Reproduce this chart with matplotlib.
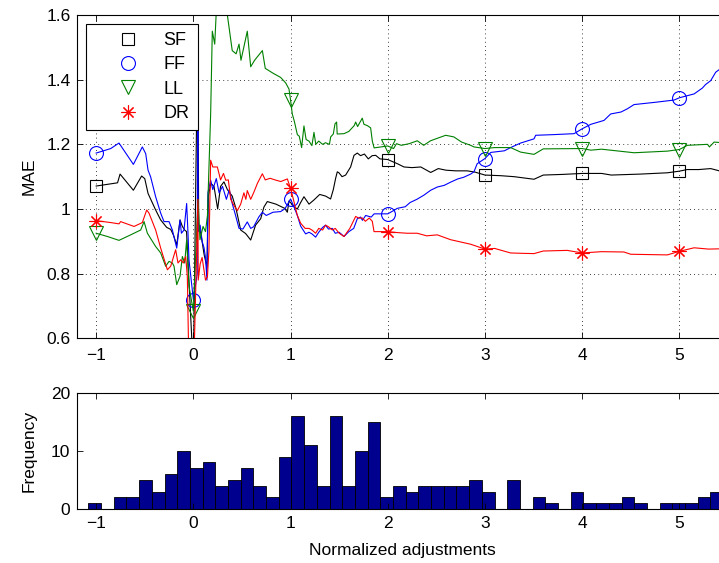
import numpy as np
import matplotlib.pyplot as plt
from matplotlib.lines import Line2D

plt.rcParams['font.family'] = ['Liberation Sans', 'DejaVu Sans']

# --- MAE curves ---
sf_x = [-1, -0.78, -0.754, -0.617, -0.532, -0.50, -0.466, -0.388, -0.336, -0.274, -0.233, -0.206, -0.171,
        -0.137, -0.113, -0.089, -0.07, 0, 0.045, 0.055, 0.08, 0.11, 0.14, 0.155, 0.18, 0.213, 0.25, 0.28,
        0.315, 0.35, 0.40, 0.44, 0.487, 0.538, 0.59, 0.64, 0.693, 0.726, 0.761, 0.85, 0.94, 0.967, 0.984,
        1.0, 1.035, 1.07, 1.104, 1.138, 1.19, 1.241, 1.3, 1.36, 1.412, 1.44, 1.464, 1.481, 1.498, 1.53,
        1.567, 1.618, 1.653, 1.687, 1.72, 1.76, 1.80, 1.84, 1.876, 1.92, 2, 2.1, 2.167, 2.25, 2.34, 2.442,
        2.52, 2.6, 2.7, 2.818, 2.9, 3, 3.163, 3.3, 3.505, 3.6, 3.8, 4, 4.2, 4.3, 4.6, 4.877, 5, 5.08, 5.2,
        5.323, 5.45]
sf_y = [1.071, 1.081, 1.108, 1.058, 1.102, 1.094, 1.048, 0.997, 0.966, 0.943, 0.937, 0.920, 0.889,
        0.966, 0.946, 0.935, 0.93, 0.5, 1.55, 0.95, 0.92, 0.86, 0.82, 1.04, 1.08, 1.069, 1.0, 1.07,
        1.084, 1.06, 1.04, 1.0, 0.935, 0.924, 0.904, 0.95, 0.97, 1.006, 1.023, 1.015, 1.002, 0.99, 1.025,
        1.02, 1.007, 1.0, 1.02, 1.038, 1.015, 1.028, 1.045, 1.04, 1.031, 1.06, 1.095, 1.115, 1.112, 1.1,
        1.105, 1.13, 1.166, 1.173, 1.165, 1.17, 1.155, 1.165, 1.166, 1.155, 1.153, 1.14, 1.13, 1.128, 1.13, 1.113,
        1.125, 1.12, 1.118, 1.118, 1.114, 1.105, 1.103, 1.1, 1.092, 1.105, 1.107, 1.11, 1.11, 1.105, 1.108, 1.112, 1.117, 1.122, 1.122,
        1.125, 1.115]

ff_x = [-1, -0.85, -0.765, -0.617, -0.525, -0.49, -0.466, -0.44, -0.388, -0.336, -0.302, -0.25, -0.216,
        -0.171, -0.137, -0.123, -0.096, -0.069, -0.055, -0.045, 0, 0.04, 0.046, 0.05, 0.07, 0.09, 0.11,
        0.125, 0.14, 0.15, 0.178, 0.2, 0.236, 0.265, 0.30, 0.34, 0.37, 0.40, 0.43, 0.47, 0.51, 0.555,
        0.59, 0.62, 0.675, 0.71, 0.75, 0.82, 0.898, 0.943, 1, 1.035, 1.07, 1.104, 1.155, 1.19, 1.22, 1.258,
        1.29, 1.33, 1.36, 1.39, 1.43, 1.46, 1.50, 1.55, 1.60, 1.65, 1.687, 1.72, 1.74, 1.773, 1.83, 1.86,
        2, 2.06, 2.098, 2.18, 2.23, 2.30, 2.373, 2.442, 2.51, 2.58, 2.647, 2.72, 2.78, 2.853, 2.887, 2.92,
        3, 3.06, 3.2, 3.264, 3.367, 3.505, 3.522, 3.7, 3.917, 4, 4.09, 4.225, 4.294, 4.4, 4.466, 4.534,
        4.75, 4.946, 5, 5.152, 5.237, 5.27, 5.323, 5.374, 5.45]
ff_y = [1.173, 1.187, 1.204, 1.138, 1.192, 1.171, 1.12, 1.1, 1.038, 0.987, 0.961, 0.961, 0.935,
        0.879, 0.966, 0.925, 0.935, 1.017, 0.925, 0.843, 0.72, 0.80, 1.55, 0.93, 0.95, 0.90, 0.88,
        0.85, 0.78, 1.05, 1.089, 1.06, 1.094, 1.05, 1.07, 1.03, 1.06, 1.017, 0.985, 0.94, 0.938, 0.96,
        0.94, 0.945, 0.976, 0.99, 0.98, 0.99, 0.992, 1.001, 1.031, 1.007, 0.98, 0.947, 0.923, 0.928, 0.923, 0.913,
        0.928, 0.943, 0.95, 0.938, 0.94, 0.925, 0.928, 0.915, 0.93, 0.94, 0.97, 0.975, 0.965, 0.98, 0.975, 0.985,
        0.985, 0.995, 1.002, 1.007, 1.02, 1.03, 1.043, 1.058, 1.068, 1.073, 1.083, 1.093, 1.098, 1.108, 1.115, 1.14,
        1.156, 1.175, 1.18, 1.19, 1.204, 1.217, 1.228, 1.23, 1.233, 1.248, 1.262, 1.274, 1.294, 1.30, 1.31, 1.323,
        1.33, 1.337, 1.344, 1.356, 1.374, 1.385, 1.397, 1.423, 1.44]

ll_x = [-1, -0.885, -0.765, -0.645, -0.542, -0.507, -0.473, -0.388, -0.336, -0.285, -0.25, -0.216, -0.199,
        -0.171, -0.137, -0.113, -0.089, -0.069, -0.045, 0, 0.048, 0.068, 0.1, 0.125, 0.145, 0.178, 0.195,
        0.22, 0.25, 0.33, 0.35, 0.40, 0.44, 0.47, 0.49, 0.555, 0.59, 0.63, 0.71, 0.74, 0.82, 0.898, 0.95,
        0.984, 1, 1.018, 1.04, 1.07, 1.09, 1.114, 1.138, 1.16, 1.19, 1.22, 1.241, 1.26, 1.29, 1.33, 1.36,
        1.40, 1.413, 1.44, 1.457, 1.474, 1.48, 1.55, 1.60, 1.655, 1.67, 1.69, 1.738, 1.755, 1.79, 1.824,
        1.842, 1.86, 2, 2.06, 2.09, 2.14, 2.22, 2.304, 2.37, 2.44, 2.596, 2.68, 2.76, 2.853, 2.887, 3, 3.1,
        3.264, 3.367, 3.505, 3.6, 4, 4.09, 4.2, 4.534, 4.877, 5, 5.083, 5.29, 5.31, 5.358, 5.45]
ll_y = [0.925, 0.915, 0.903, 0.92, 0.935, 0.961, 0.925, 0.884, 0.864, 0.823, 0.838, 0.833, 0.823,
        0.766, 0.792, 0.853, 0.833, 0.905, 0.761, 0.684, 1.03, 0.905, 0.946, 0.93, 0.98, 1.294, 1.55,
        1.51, 1.7, 1.7, 1.6, 1.49, 1.48, 1.51, 1.46, 1.55, 1.44, 1.46, 1.49, 1.435, 1.42, 1.407, 1.39,
        1.371, 1.337, 1.294, 1.27, 1.23, 1.225, 1.19, 1.257, 1.215, 1.21, 1.196, 1.237, 1.20, 1.21, 1.20, 1.205,
        1.20, 1.223, 1.232, 1.263, 1.269, 1.232, 1.233, 1.24, 1.258, 1.269, 1.255, 1.281, 1.262, 1.258, 1.251,
        1.209, 1.189, 1.195, 1.187, 1.202, 1.197, 1.202, 1.211, 1.197, 1.211, 1.228, 1.223, 1.207, 1.197, 1.192, 1.187, 1.19,
        1.19, 1.176, 1.169, 1.186, 1.187, 1.182, 1.185, 1.174, 1.179, 1.184, 1.197, 1.2, 1.192, 1.207, 1.205]

dr_x = [-1, -0.85, -0.765, -0.748, -0.61, -0.525, -0.48, -0.456, -0.388, -0.336, -0.267, -0.233, -0.182,
        -0.158, -0.13, -0.103, -0.079, -0.062, -0.045, 0, 0.047, 0.05, 0.07, 0.09, 0.11, 0.125, 0.145,
        0.16, 0.178, 0.20, 0.247, 0.28, 0.31, 0.333, 0.36, 0.384, 0.42, 0.453, 0.487, 0.52, 0.54, 0.555,
        0.59, 0.62, 0.66, 0.71, 0.74, 0.79, 0.84, 0.90, 0.967, 1, 1.035, 1.07, 1.104, 1.15, 1.19, 1.22,
        1.258, 1.29, 1.33, 1.361, 1.39, 1.43, 1.46, 1.50, 1.55, 1.61, 1.67, 1.70, 1.74, 1.77, 1.81, 1.841,
        1.859, 2, 2.1, 2.2, 2.304, 2.4, 2.51, 2.647, 2.75, 2.853, 3, 3.1, 3.264, 3.367, 3.505, 3.6, 3.847,
        4, 4.2, 4.43, 4.5, 4.877, 5, 5.152, 5.3, 5.45]
dr_y = [0.964, 0.958, 0.954, 0.961, 0.946, 0.958, 0.997, 0.987, 0.935, 0.879, 0.812, 0.823, 0.874,
        0.833, 0.843, 0.833, 0.853, 0.792, 0.5, 0.45, 1.03, 0.78, 0.83, 0.85, 0.81, 0.78, 0.79,
        0.87, 1.151, 1.13, 1.13, 1.09, 1.11, 1.089, 1.09, 1.03, 1.01, 0.995, 1.015, 1.05, 1.03, 1.057,
        1.03, 1.05, 1.08, 1.109, 1.09, 1.095, 1.09, 1.085, 1.093, 1.064, 1.023, 0.98, 0.956, 0.94, 0.94, 0.935,
        0.925, 0.94, 0.935, 0.95, 0.945, 0.935, 0.94, 0.925, 0.915, 0.94, 0.977, 0.972, 0.972, 0.962, 0.972, 0.962,
        0.93, 0.93, 0.927, 0.925, 0.925, 0.917, 0.92, 0.905, 0.898, 0.891, 0.876, 0.878, 0.864, 0.863, 0.862, 0.87, 0.872,
        0.864, 0.868, 0.867, 0.86, 0.858, 0.869, 0.88, 0.876, 0.877]

# x positions carrying a marker
sf_marks = [-1, 0, 2, 3, 4, 5]
all_marks = [-1, 0, 1, 2, 3, 4, 5]

# --- histogram of normalized adjustments ---
hist_start = -1.08
hist_width = 0.1306
hist_counts = [1, 0, 2, 2, 5, 3, 6, 10, 7, 8, 4, 5, 7, 4, 2, 9, 16, 11, 4, 16,
               4, 10, 15, 2, 4, 3, 4, 4, 4, 4, 5, 3, 0, 5, 0, 2, 1, 0, 3, 1,
               1, 1, 2, 1, 0, 1, 1, 1, 2, 3]

series = [
    ('SF', sf_x, sf_y, 'k', 's', 8, sf_marks),
    ('FF', ff_x, ff_y, 'b', 'o', 10, all_marks),
    ('LL', ll_x, ll_y, (0, 0.5, 0), 'v', 10, all_marks),
    ('DR', dr_x, dr_y, 'r', (8, 2, 0), 10, all_marks),
]

fig = plt.figure(figsize=(7.19, 5.63), dpi=100)
ax1 = fig.add_axes([0.1067, 0.3991, 0.9057, 0.5742])
ax2 = fig.add_axes([0.1067, 0.0959, 0.9057, 0.2066])

handles = []
for name, xs, ys, col, mk, ms, marks in series:
    idx = [i for i, v in enumerate(xs) if v in marks]
    ax1.plot(xs, ys, color=col, lw=0.8, marker=mk, markevery=idx, ms=ms,
             mfc='none', mec=col, mew=0.8)
    handles.append(Line2D([], [], ls='none', marker=mk, ms=ms, mfc='none', mec=col, mew=0.8))

ax1.set_xlim(-1.2, 5.5)
ax1.set_ylim(0.6, 1.6)
ax1.set_xticks([-1, 0, 1, 2, 3, 4, 5])
ax1.set_yticks([0.6, 0.8, 1.0, 1.2, 1.4, 1.6])
ax1.set_yticklabels(['0.6', '0.8', '1', '1.2', '1.4', '1.6'])
ax1.grid(True, color='k', linestyle=(0, (1, 4)), lw=0.6)
ax1.set_ylabel('MAE', fontsize=12.5)
ax1.yaxis.set_label_coords(-0.062, 0.5)
ax1.tick_params(direction='in', top=True, right=True, length=4.5, width=0.6, labelsize=12.5)
ax1.tick_params(axis='x', pad=7)
ax1.tick_params(axis='y', pad=4.5)

leg = ax1.legend(handles, ['SF', 'FF', 'LL', 'DR'], loc='upper left', bbox_to_anchor=(0.0143, 0.972),
                 borderaxespad=0, fontsize=13, handlelength=3.7, handletextpad=0.15,
                 labelspacing=0.4, borderpad=0.45, fancybox=False, framealpha=1)
leg.get_frame().set_edgecolor('k')
leg.get_frame().set_linewidth(0.8)

centers = hist_start + hist_width * (np.arange(len(hist_counts)) + 0.5)
ax2.bar(centers, hist_counts, width=hist_width, color=(0, 0, 0.5625), edgecolor='k', lw=0.6)
ax2.set_xlim(-1.2, 5.5)
ax2.set_ylim(0, 20)
ax2.set_xticks([-1, 0, 1, 2, 3, 4, 5])
ax2.set_yticks([0, 10, 20])
ax2.set_ylabel('Frequency', fontsize=12.5)
ax2.yaxis.set_label_coords(-0.062, 0.5)
ax2.set_xlabel('Normalized adjustments', fontsize=12.5)
ax2.xaxis.set_label_coords(0.5, -0.29)
ax2.tick_params(direction='in', top=True, right=True, length=4.5, width=0.6, labelsize=12.5)
ax2.tick_params(axis='x', pad=5)
ax2.tick_params(axis='y', pad=4.5)

for ax in (ax1, ax2):
    for s in ax.spines.values():
        s.set_linewidth(0.8)

fig.savefig('out.png', dpi=100)
